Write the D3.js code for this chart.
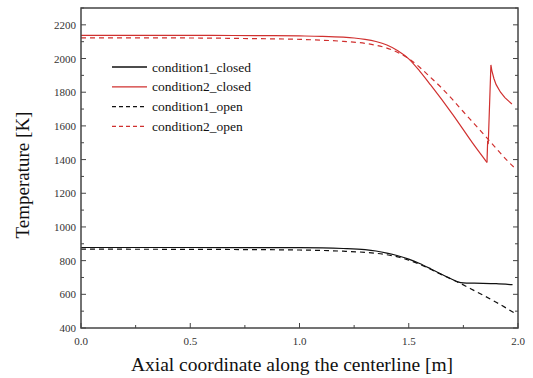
<!DOCTYPE html>
<html><head><meta charset="utf-8">
<script src="https://cdn.jsdelivr.net/npm/d3@7/dist/d3.min.js"></script>
<style>body{margin:0;background:#fff;} svg{display:block;}</style>
</head><body><svg id="c" width="533" height="378"></svg>
<script>
const xTicks = [0.0, 0.5, 1.0, 1.5, 2.0];
const yTicks = [400, 600, 800, 1000, 1200, 1400, 1600, 1800, 2000, 2200];

const c2closedX = [0, 0.2, 0.4, 0.6, 0.8, 1.0, 1.1, 1.2, 1.25, 1.3, 1.35, 1.4, 1.45, 1.5, 1.55, 1.6, 1.7, 1.8, 1.858, 1.861, 1.864, 1.876, 1.88, 1.89, 1.9, 1.92, 1.94, 1.96, 1.972];
const c2closedY = [2138, 2138, 2138, 2137, 2136, 2134, 2132, 2127, 2122, 2114, 2101, 2080, 2046, 1998, 1925, 1843, 1670, 1484, 1383, 1505, 1500, 1962, 1930, 1880, 1845, 1800, 1768, 1744, 1730];
const c2closedMinIndex = 18;

const c2openX = [0, 0.5, 0.8, 1.0, 1.1, 1.2, 1.3, 1.4, 1.45, 1.5, 1.55, 1.6, 1.65, 1.7, 1.75, 1.8, 1.85, 1.9, 1.95, 1.985];
const c2openY = [2123, 2122, 2118, 2114, 2109, 2102, 2090, 2062, 2036, 1999, 1948, 1888, 1826, 1757, 1684, 1612, 1540, 1467, 1395, 1350];

const c1closedX = [0, 0.5, 1.0, 1.2, 1.3, 1.35, 1.4, 1.45, 1.5, 1.55, 1.6, 1.65, 1.7, 1.725, 1.75, 1.8, 1.9, 1.975];
const c1closedY = [878, 878, 877, 872, 865, 857, 845, 829, 809, 783, 752, 719, 688, 674, 668, 666, 663, 657];

const c1openX = [0, 0.5, 1.0, 1.2, 1.3, 1.4, 1.45, 1.5, 1.55, 1.6, 1.65, 1.7, 1.725, 1.8, 1.9, 1.985];
const c1openY = [868, 867, 863, 856, 849, 835, 822, 803, 778, 749, 717, 687, 672, 622, 553, 488];

const seriesNames = ["condition1_closed", "condition2_closed", "condition1_open", "condition2_open"];

const RED = "#d0302f";
const series = [
  {name: seriesNames[0], xs: c1closedX, ys: c1closedY, color: "#111", dash: null},
  {name: seriesNames[1], xs: c2closedX, ys: c2closedY, color: RED, dash: null, split: c2closedMinIndex},
  {name: seriesNames[2], xs: c1openX, ys: c1openY, color: "#111", dash: "5,4"},
  {name: seriesNames[3], xs: c2openX, ys: c2openY, color: RED, dash: "5,4"}
];

const svg = d3.select("#c");
const L = 81, R = 518, T = 8, B = 328;
const x = d3.scaleLinear().domain([0, 2]).range([L, R]);
const y = d3.scaleLinear().domain([400, 2300]).range([B, T]);
const font = "'Liberation Serif','Times New Roman',serif";
const axisColor = "#444";

// lines
const smooth = d3.line().x(d => x(d[0])).y(d => y(d[1])).curve(d3.curveMonotoneX);
const g = svg.append("g");
series.forEach(s => {
  const pts = s.xs.map((v, i) => [v, s.ys[i]]);
  const parts = s.split != null ? [pts.slice(0, s.split + 1), pts.slice(s.split)] : [pts];
  parts.forEach((p, k) => {
    const gen = (s.split != null && k === 1)
      ? d3.line().x(d => x(d[0])).y(d => y(d[1])).curve(d3.curveLinear)
      : smooth;
    g.append("path").attr("d", gen(p)).attr("fill", "none")
      .attr("stroke", s.color).attr("stroke-width", 1.2)
      .attr("stroke-linejoin", "miter")
      .attr("stroke-dasharray", s.dash);
  });
});

// axes box
svg.append("rect").attr("x", L).attr("y", T).attr("width", R - L).attr("height", B - T)
  .attr("fill", "none").attr("stroke", axisColor).attr("stroke-width", 1.5);

// ticks
const xMinor = d3.range(0, 2.001, 0.25);
const yMinor = d3.range(400, 2300.1, 100);
const tg = svg.append("g").attr("stroke", axisColor).attr("stroke-width", 1);
xMinor.forEach(v => {
  const major = xTicks.some(t => Math.abs(t - v) < 1e-6);
  const len = major ? 5 : 3;
  tg.append("line").attr("x1", x(v)).attr("x2", x(v)).attr("y1", B).attr("y2", B - len);
});
yMinor.forEach(v => {
  const major = yTicks.includes(v);
  const len = major ? 5 : 3;
  tg.append("line").attr("x1", L).attr("x2", L + len).attr("y1", y(v)).attr("y2", y(v));
  tg.append("line").attr("x1", R).attr("x2", R - len).attr("y1", y(v)).attr("y2", y(v));
});

// tick labels
svg.append("g").selectAll("text").data(xTicks).join("text")
  .attr("x", d => x(d)).attr("y", 345).attr("text-anchor", "middle")
  .attr("font-family", font).attr("font-size", 11).attr("fill", "#333")
  .text(d => d3.format(".1f")(d));
svg.append("g").selectAll("text").data(yTicks).join("text")
  .attr("x", 76).attr("y", d => y(d) + 4).attr("text-anchor", "end")
  .attr("font-family", font).attr("font-size", 11).attr("fill", "#333")
  .text(d => d);

// axis titles
svg.append("text").attr("x", 292).attr("y", 371).attr("text-anchor", "middle")
  .attr("font-family", font).attr("font-size", 19.5).attr("fill", "#111")
  .text("Axial coordinate along the centerline [m]");
svg.append("text").attr("transform", "translate(29,175) rotate(-90)").attr("text-anchor", "middle")
  .attr("font-family", font).attr("font-size", 19).attr("fill", "#111")
  .text("Temperature [K]");

// legend
const lg = svg.append("g");
series.forEach((s, i) => {
  const yy = 67 + i * 19.8;
  lg.append("line").attr("x1", 112).attr("x2", 147).attr("y1", yy).attr("y2", yy)
    .attr("stroke", s.color).attr("stroke-width", 1.3).attr("stroke-dasharray", s.dash ? "4,3" : null);
  lg.append("text").attr("x", 152).attr("y", yy + 4.5).attr("font-family", font)
    .attr("font-size", 13.5).attr("fill", "#111").text(s.name);
});
</script></body></html>
